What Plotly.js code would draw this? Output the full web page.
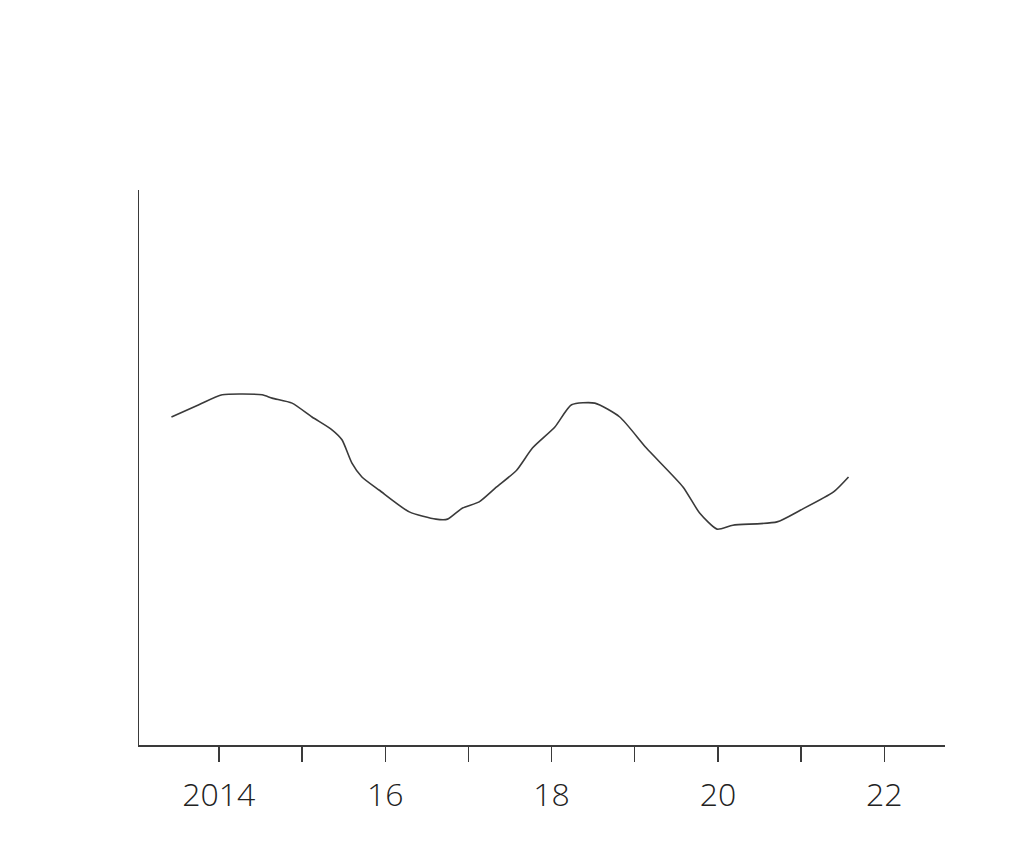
<!DOCTYPE html>
<html>
<head>
<meta charset="utf-8">
<script src="https://cdn.plot.ly/plotly-3.0.1.min.js"></script>
<style>
  html, body { margin: 0; padding: 0; background: #fff; }
  #graph { width: 1024px; height: 852px; }
</style>
</head>
<body>
<div id="graph"></div>
<script>
// time positions (decimal years)
const years = [2013.43, 2013.76, 2014.04, 2014.52, 2014.64, 2014.88, 2015.12, 2015.36,
  2015.48, 2015.60, 2015.72, 2015.93, 2016.29, 2016.61, 2016.75, 2016.93, 2017.13,
  2017.34, 2017.58, 2017.77, 2018.04, 2018.24, 2018.52, 2018.82, 2019.14, 2019.58,
  2019.78, 2019.99, 2020.18, 2020.71, 2020.99, 2021.39, 2021.57]

// values (no scale shown on the sketch, so 0-100 units)
const values = [59.1, 61.3, 63.1, 63.1, 62.5, 61.6, 59.1, 56.8,
  55.0, 50.8, 48.3, 45.9, 42.0, 40.7, 40.7, 42.7, 43.8,
  46.5, 49.5, 53.5, 57.3, 61.3, 61.6, 59.1, 53.5, 46.5,
  41.8, 38.9, 39.6, 40.2, 42.3, 45.6, 48.3]

// x ticks, one per year, labelled every other year
const tickYears = [2014, 2015, 2016, 2017, 2018, 2019, 2020, 2021, 2022]
const tickLabels = ['2014', '', '16', '', '18', '', '20', '', '22']

const ink = '#3a3a3a'

const trace = {
  x: years,
  y: values,
  mode: 'lines',
  line: { color: ink, width: 1.6, shape: 'spline', smoothing: 0.6 },
  hoverinfo: 'skip',
  type: 'scatter'
}

const layout = {
  width: 1024,
  height: 852,
  paper_bgcolor: '#fff',
  plot_bgcolor: '#fff',
  showlegend: false,
  margin: { l: 139, r: 79, t: 190, b: 107 },
  font: { family: 'Open Sans, Liberation Sans, sans-serif', color: '#222' },
  xaxis: {
    range: [2013.04, 2022.73],
    showgrid: false,
    zeroline: false,
    showline: true,
    linecolor: ink,
    linewidth: 1.5,
    tickmode: 'array',
    tickvals: tickYears,
    ticktext: tickLabels,
    ticks: 'outside',
    ticklen: 15,
    tickwidth: 1.3,
    tickcolor: ink,
    tickfont: { size: 32, weight: 300, color: '#222' },
    ticklabelstandoff: 6
  },
  // overlay axis only to draw the upper half of the crossing ticks
  xaxis2: {
    overlaying: 'x',
    matches: 'x',
    anchor: 'y',
    showgrid: false,
    zeroline: false,
    showline: false,
    tickmode: 'array',
    tickvals: tickYears,
    showticklabels: false,
    ticks: 'inside',
    ticklen: 14,
    tickwidth: 1.3,
    tickcolor: ink
  },
  yaxis: {
    range: [0, 100],
    showgrid: false,
    zeroline: false,
    showline: true,
    linecolor: ink,
    linewidth: 1.5,
    ticks: '',
    showticklabels: false
  }
}

Plotly.newPlot('graph', [trace], layout, { staticPlot: true })
</script>
</body>
</html>
